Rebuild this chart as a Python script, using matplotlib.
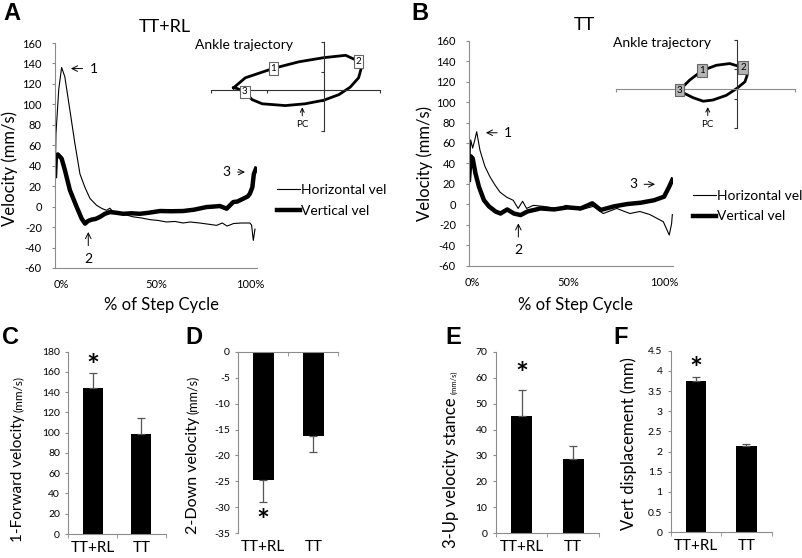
import numpy as np
import matplotlib
matplotlib.use("Agg")
import matplotlib.pyplot as plt
from matplotlib.ticker import FormatStrFormatter

plt.rcParams['font.family'] = ['Lato', 'DejaVu Sans']
plt.rcParams['axes.unicode_minus'] = False

W, H = 803, 558

# ---- velocity traces (% of step cycle, mm/s) ----
a_hx = [-3.5, -3.0, -1.5, 0.0, 1.7, 4.4, 7.0, 9.7, 12.3, 15.0, 18.5, 21.5, 23.8, 25.5, 27.0, 30.8, 34.0,
        37.9, 42.0, 46.7, 51.0, 55.5, 60.0, 64.3, 68.0, 73.0, 77.0, 82.0, 85.0, 87.5, 91.0, 95.0, 99.6,
        100.5, 101.4, 102.3]
a_hy = [9, 71, 115, 136, 127, 94, 62, 32, 19, 8, 1.3, -2, -3.6, -1.5, -4.5, -7, -8,
        -10, -11, -12.7, -13.5, -15, -14.5, -16, -15, -16, -17, -18.3, -16, -19, -16.5, -16, -16,
        -18, -33, -22]
a_vx = [-3.5, -3.0, -2.0, 0.0, 1.7, 4.4, 7.9, 10.6, 12.4, 14.0, 15.9, 18.0, 20.3, 22.9, 25.6, 29.0,
        32.6, 37.0, 41.4, 46.0, 52.0, 58.0, 64.3, 70.0, 76.7, 80.0, 83.7, 87.3, 90.8, 93.0, 96.1, 98.5,
        99.6, 100.9, 101.7, 102.8]
a_vy = [30, 50, 51, 47, 36, 16, 0, -11.7, -16.6, -14, -12.7, -12, -10, -7, -5.3, -6,
        -7, -6.5, -7, -6, -4.3, -4.5, -4.3, -3, -0.4, 0, 0.6, -2, 4.5, 5, 7.8, 10,
        12.7, 19, 32, 37]

b_hx = [-1.9, -1.0, 0.0, 1.0, 2.1, 3.8, 6.4, 9.0, 11.6, 14.2, 17.7, 21.1, 23.7, 26.0, 28.1, 31.6, 36.8,
        43.7, 48.9, 55.9, 62.8, 68.0, 75.0, 81.9, 87.1, 92.3, 95.8, 99.3, 102.4, 103.6, 104.0]
b_hy = [20, 63, 55, 62, 71, 53, 37, 27, 19, 12, 7, 4, -4, 3, -4, -1, -2,
        -4, -1, -5.5, -2, -9, -4, -9, -7, -10, -13.5, -17, -30, -19, -10]
b_vx = [-1.9, -1.0, 0.0, 1.5, 3.3, 5.9, 8.5, 11.9, 14.5, 18.0, 21.5, 25.0, 28.5, 35.4, 42.4, 49.3,
        56.3, 62.3, 66.7, 73.6, 80.6, 87.6, 94.5, 99.7, 102.3, 104.0]
b_vy = [24, 47, 45, 30, 17, 4, -2, -7, -9, -5, -9, -10.5, -7, -4, -5, -3,
        -4, 1, -5.5, -2, 0.3, 1.6, 4, 7.5, 17, 24]

# ---- ankle trajectory loops (mm) ----
a_tx = [-16.0, -13.9, -8.9, -4.4, 0.0, 3.9, 6.2, 6.7, 6.2, 4.7, 2.7, 0.0, -3.3, -6.8, -10.9, -12.7, -14.0, -15.4]
a_ty = [0.3, 2.0, 3.6, 4.7, 5.4, 5.8, 4.8, 3.7, 2.0, 0.4, -0.85, -1.8, -2.4, -2.7, -2.4, -1.7, -0.4, 0.2]
a_box = {'1': 2, '2': 6, '3': 16}
b_tx = [-10.2, -8.4, -6.2, -3.7, -1.3, 1.1, 1.8, 1.4, 0.0, -1.9, -4.3, -6.0, -7.8, -9.5]
b_ty = [-0.1, 1.6, 3.2, 4.1, 4.4, 3.7, 2.4, 1.3, 0.2, -1.0, -1.8, -2.0, -1.4, -0.6]
b_box = {'3': 0, '1': 2, '2': 5}

# ---- bar summaries ----
groups = ['TT+RL', 'TT']
signif = [True, False]
fwd_vel = [143.8, 99.0]
fwd_err = [15.4, 15.2]
down_vel = [-24.7, -16.2]
down_err = [4.2, 3.1]
up_vel = [45.2, 28.5]
up_err = [10.0, 5.3]
vert_disp = [3.755, 2.145]
vert_err = [0.085, 0.045]

fig = plt.figure(figsize=(W / 100, H / 100), dpi=100)


def px_axes(l, t, r, b):
    return fig.add_axes([l / W, 1 - b / H, (r - l) / W, (b - t) / H])


def ftext(x, y, s, **kw):
    return fig.text(x / W, 1 - y / H, s, **kw)


GRAY = '#8c8c8c'


def velocity_panel(rect, hx, hy, vx, vy, xlim, legend_anchor):
    ax = px_axes(*rect)
    ax.plot(hx, hy, color='black', lw=0.8, label='Horizontal vel')
    ax.plot(vx, vy, color='black', lw=3.2, label='Vertical vel', solid_joinstyle='round')
    ax.set_xlim(xlim)
    ax.set_ylim(-60, 160)
    ax.set_yticks(range(-60, 161, 20))
    ax.set_xticks([0, 50, 100])
    ax.set_xticklabels(['0%', '50%', '100%'])
    for s in ['top', 'right']:
        ax.spines[s].set_visible(False)
    for s in ['left', 'bottom']:
        ax.spines[s].set_color(GRAY)
    ax.tick_params(axis='y', length=2.5, color=GRAY, labelsize=8, pad=7)
    ax.tick_params(axis='x', length=0, labelsize=8, pad=8)
    ax.legend(loc='center left', bbox_to_anchor=legend_anchor, frameon=False, fontsize=10,
              handlelength=1.65, handletextpad=0.1, labelspacing=0.6, borderpad=0, borderaxespad=0)
    return ax


def arrow_note(ax, s, xy, xytext):
    ax.annotate(s, xy=xy, xytext=xytext, ha='center', va='center', fontsize=10,
                arrowprops=dict(arrowstyle='->', lw=0.7, shrinkA=3, shrinkB=0))


axA = velocity_panel((55, 43, 256.7, 268), a_hx, a_hy, a_vx, a_vy, (-3.5, 103.2), (1.1, 0.30))
arrow_note(axA, '1', (4.9, 135), (16.9, 135))
arrow_note(axA, '2', (14.1, -24.8), (14.1, -50.8))
arrow_note(axA, '3', (97, 33.8), (87.3, 33.8))

axB = velocity_panel((469, 40.7, 673.3, 265.7), b_hx, b_hy, b_vx, b_vy, (-1.9, 104.5), (1.096, 0.264))
arrow_note(axB, '1', (6.9, 70), (18.5, 70))
arrow_note(axB, '2', (23.8, -18.6), (23.8, -44.7))
arrow_note(axB, '3', (95, 19.6), (83.6, 19.6))


def trajectory_inset(rect, tx, ty, boxes, xlim, ylim, xt, yt, pc_x, hcol, boxface):
    ax = px_axes(*rect)
    ax.patch.set_alpha(0)
    ax.plot(np.append(tx, tx[0]), np.append(ty, ty[0]), color='black', lw=2)
    ax.set_xlim(xlim)
    ax.set_ylim(ylim)
    ax.spines['left'].set_position(('data', 0))
    ax.spines['bottom'].set_position(('data', 0))
    ax.spines['top'].set_visible(False)
    ax.spines['right'].set_visible(False)
    ax.spines['left'].set_color('#333333')
    ax.spines['bottom'].set_color(hcol)
    ax.set_xticks(xt)
    ax.set_yticks(yt)
    ax.tick_params(labelbottom=False, labelleft=False, length=2.5)
    ax.tick_params(axis='x', color=hcol)
    ax.tick_params(axis='y', color='#333333')
    for lab, i in boxes.items():
        ax.text(tx[i], ty[i], lab, ha='center', va='center', fontsize=7,
                bbox=dict(boxstyle='square,pad=0.2', fc=boxface, ec='#666666', lw=0.8))
    ax.annotate('PC', xy=(pc_x, -3.0), xytext=(pc_x, -5.9), ha='center', va='center', fontsize=7,
                arrowprops=dict(arrowstyle='->', lw=0.7, shrinkA=1, shrinkB=0))
    return ax


trajectory_inset((211, 42.3, 380, 131), a_tx, a_ty, a_box, (-20, 10), (-7, 8),
                 [-20, -10, 0, 10], [-7, -2, 3, 8], -3.8, '#333333', 'white')
trajectory_inset((616, 40, 795, 128.3), b_tx, b_ty, b_box, (-21.5, 10.3), (-6.6, 8.4),
                 [-21.5, 10.3], [-6.6, -1.6, 3.4, 8.4], -5.2, '#8c8c8c', '#b4b4b4')

ftext(195, 45, 'Ankle trajectory', ha='left', va='center', fontsize=10)
ftext(613, 42.7, 'Ankle trajectory', ha='left', va='center', fontsize=10)

ftext(165, 27, 'TT+RL', ha='center', va='center', fontsize=13)
ftext(584.5, 25, 'TT', ha='center', va='center', fontsize=13)
ftext(10, 168, 'Velocity (mm/s)', ha='center', va='center', rotation=90, fontsize=12)
ftext(425, 163.5, 'Velocity (mm/s)', ha='center', va='center', rotation=90, fontsize=12)
ftext(162, 305, '% of Step Cycle', ha='center', va='center', fontsize=12)
ftext(576, 305, '% of Step Cycle', ha='center', va='center', fontsize=12)


def bar_panel(rect, vals, errs, ylim, ystep, star_off, negative=False):
    ax = px_axes(*rect)
    x = np.arange(len(groups))
    yerr = [errs, [0] * len(errs)] if negative else [[0] * len(errs), errs]
    ax.bar(x, vals, width=0.41, color='black', yerr=yerr,
           error_kw=dict(ecolor='#555555', elinewidth=0.9, capsize=3, capthick=0.9))
    ax.set_xlim(-0.5, 1.5)
    ax.set_ylim(ylim)
    ax.set_yticks(np.arange(ylim[0], ylim[1] + ystep / 2, ystep))
    ax.yaxis.set_major_formatter(FormatStrFormatter('%g'))
    ax.set_xticks(x)
    ax.set_xticklabels(groups)
    ax.set_xticks([-0.5, 0.5, 1.5], minor=True)
    ax.spines['right'].set_visible(False)
    ax.spines['left'].set_color(GRAY)
    if negative:
        ax.spines['bottom'].set_visible(False)
        ax.spines['top'].set_color(GRAY)
        ax.tick_params(axis='x', which='minor', bottom=False, top=True, direction='in',
                       length=3, color=GRAY)
    else:
        ax.spines['top'].set_visible(False)
        ax.spines['bottom'].set_color(GRAY)
        ax.tick_params(axis='x', which='minor', length=3, color=GRAY)
    ax.tick_params(axis='x', which='major', length=0, labelsize=11, pad=5)
    ax.tick_params(axis='y', length=2.5, color=GRAY, labelsize=7.5, pad=3.5)
    for xi, v, e, sig in zip(x, vals, errs, signif):
        if sig:
            tip = v - e if negative else v + e
            ax.annotate('*', xy=(xi, tip), xytext=(0, star_off),
                        textcoords='offset points', ha='center', va='center',
                        fontsize=22, fontweight='bold')
    return ax


bar_panel((68.3, 351.7, 165.7, 534), fwd_vel, fwd_err, (0, 180), 20, 4)
bar_panel((238.3, 351.7, 338.3, 533.3), down_vel, down_err, (-35, 0), 5, -14.6, negative=True)
bar_panel((495.7, 351.7, 599, 533.3), up_vel, up_err, (0, 70), 10, 10.6)
bar_panel((670.7, 350.7, 771.7, 532.3), vert_disp, vert_err, (0, 4.5), 0.5, 5)


def ylabel2(xb, yj, main, small, s_main, s_small):
    ftext(xb, yj + 1.5, main, rotation=90, rotation_mode='anchor', ha='right', va='baseline', fontsize=s_main)
    ftext(xb, yj - 1.5, small, rotation=90, rotation_mode='anchor', ha='left', va='baseline', fontsize=s_small)


ylabel2(22, 413.5, '1-Forward velocity', '(mm/s)', 11, 8.5)
ylabel2(197.5, 415, '2-Down velocity', '(mm/s)', 11.5, 9)
ylabel2(456, 396, '3-Up velocity stance', '(mm/s)', 12, 5.5)
ftext(629, 444, 'Vert displacement (mm)', rotation=90, ha='center', va='center', fontsize=12)

for lab, x, y in [('A', 11.7, 13.3), ('B', 419.7, 13.3), ('C', 11, 338), ('D', 194, 338),
                  ('E', 453, 338), ('F', 621, 338)]:
    ftext(x, y, lab, ha='center', va='center', fontsize=17, fontweight='bold', family='Liberation Sans')

fig.savefig('out.png', dpi=100)
